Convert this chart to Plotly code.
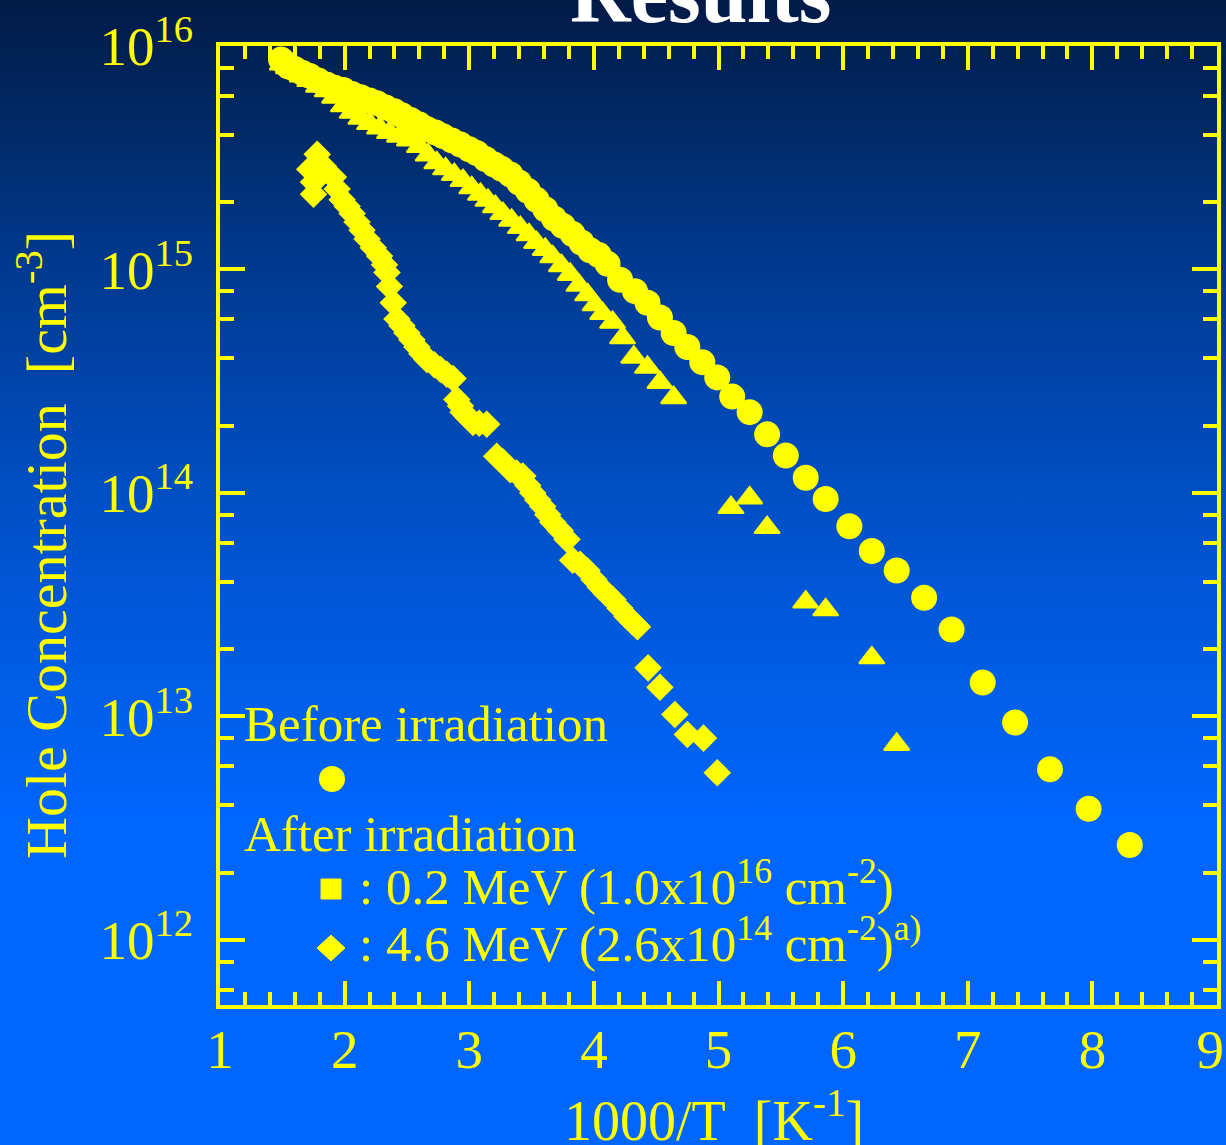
import base64
import plotly.graph_objects as go

# ---------------- data ----------------
before_x = [1.49, 1.52, 1.55, 1.60, 1.66, 1.72, 1.79, 1.86, 1.92, 1.99, 2.06, 2.13, 2.20, 2.26,
            2.33, 2.40, 2.46, 2.53, 2.60, 2.66, 2.73, 2.79, 2.86, 2.93, 3.00, 3.06, 3.13, 3.20,
            3.26, 3.33, 3.40, 3.47, 3.54, 3.61, 3.68, 3.75, 3.83, 3.90, 3.97, 4.04, 4.11, 4.21,
            4.33, 4.43, 4.53, 4.64, 4.75, 4.87, 4.99, 5.11, 5.25, 5.39, 5.54, 5.70, 5.86, 6.05,
            6.23, 6.43, 6.65, 6.87, 7.12, 7.38, 7.66, 7.97, 8.30]
before_y = [8.7e15, 8.4e15, 8.1e15, 7.9e15, 7.6e15, 7.35e15, 7.0e15, 6.7e15, 6.5e15, 6.35e15,
            6.1e15, 5.9e15, 5.7e15, 5.55e15, 5.3e15, 5.1e15, 4.9e15, 4.67e15, 4.45e15, 4.25e15,
            4.1e15, 3.95e15, 3.78e15, 3.62e15, 3.45e15, 3.32e15, 3.12e15, 2.95e15, 2.82e15,
            2.66e15, 2.45e15, 2.25e15, 2.05e15, 1.86e15, 1.69e15, 1.57e15, 1.44e15, 1.32e15,
            1.22e15, 1.16e15, 1.06e15, 9.0e14, 8.0e14, 7.1e14, 6.1e14, 5.2e14, 4.5e14, 3.85e14,
            3.29e14, 2.70e14, 2.30e14, 1.83e14, 1.47e14, 1.17e14, 9.4e13, 7.1e13, 5.5e13, 4.5e13,
            3.4e13, 2.45e13, 1.42e13, 9.4e12, 5.8e12, 3.86e12, 2.66e12]

mev02_x = [1.50, 1.55, 1.60, 1.66, 1.72, 1.79, 1.86, 1.92, 1.99, 2.06, 2.13, 2.20, 2.28, 2.36,
           2.44, 2.52, 2.60, 2.67, 2.74, 2.81, 2.88, 2.95, 3.02, 3.09, 3.15, 3.21, 3.27, 3.34,
           3.41, 3.48, 3.54, 3.61, 3.67, 3.74, 3.81, 3.88, 3.95, 4.01, 4.07, 4.15, 4.23, 4.32,
           4.43, 4.53, 4.64, 5.10, 5.25, 5.39, 5.70, 5.86, 6.23, 6.43]
mev02_y = [8.3e15, 8.0e15, 7.7e15, 7.35e15, 7.0e15, 6.6e15, 6.3e15, 5.9e15, 5.4e15, 5.05e15,
           4.75e15, 4.5e15, 4.3e15, 4.1e15, 3.95e15, 3.8e15, 3.55e15, 3.25e15, 3.0e15, 2.82e15,
           2.66e15, 2.5e15, 2.32e15, 2.17e15, 2.04e15, 1.91e15, 1.78e15, 1.66e15, 1.54e15, 1.43e15,
           1.32e15, 1.23e15, 1.14e15, 1.04e15, 9.5e14, 8.5e14, 7.7e14, 6.95e14, 6.35e14, 5.8e14,
           4.95e14, 4.05e14, 3.65e14, 3.12e14, 2.67e14, 8.6e13, 9.5e13, 7.0e13, 3.25e13, 3.0e13,
           1.83e13, 7.5e12]

mev46_x = [1.72, 1.75, 1.75, 1.78, 1.83, 1.91, 1.94, 1.98, 2.02, 2.06, 2.10, 2.14, 2.18, 2.23,
           2.28, 2.32, 2.34, 2.36, 2.39, 2.42, 2.46, 2.50, 2.54, 2.58, 2.62, 2.66, 2.72, 2.77,
           2.82, 2.87, 2.90, 2.93, 2.95, 2.99, 3.03, 3.08, 3.14, 3.22, 3.27, 3.33, 3.38, 3.43,
           3.47, 3.51, 3.55, 3.59, 3.63, 3.67, 3.73, 3.785, 3.83, 3.89, 3.945, 4.00, 4.05, 4.10,
           4.154, 4.21, 4.266, 4.31, 4.35, 4.435, 4.53, 4.65, 4.75, 4.88, 4.99]
mev46_y = [2.81e15, 2.46e15, 2.17e15, 3.28e15, 2.9e15, 2.59e15, 2.29e15, 2.05e15, 1.92e15,
           1.78e15, 1.63e15, 1.5e15, 1.37e15, 1.25e15, 1.15e15, 1.05e15, 9.7e14, 8.4e14, 7.1e14,
           6.0e14, 5.6e14, 5.2e14, 4.85e14, 4.5e14, 4.2e14, 3.96e14, 3.75e14, 3.57e14, 3.4e14,
           3.25e14, 2.62e14, 2.45e14, 2.3e14, 2.18e14, 2.07e14, 2.05e14, 2.03e14, 1.46e14,
           1.38e14, 1.27e14, 1.23e14, 1.19e14, 1.08e14, 1.0e14, 9.3e13, 8.7e13, 8.0e13, 7.4e13,
           6.8e13, 6.2e13, 5.0e13, 4.8e13, 4.5e13, 4.1e13, 3.8e13, 3.55e13, 3.33e13, 3.05e13,
           2.8e13, 2.65e13, 2.52e13, 1.65e13, 1.35e13, 1.02e13, 8.3e12, 8.0e12, 5.6e12]

x_ticks = [1, 2, 3, 4, 5, 6, 7, 8, 9]
x_tick_text = ["1", "2", "3", "4", "5", "6", "7", "8", "9\u00a0"]
y_decades = [12, 13, 14, 15, 16]

# ---------------- style ----------------
YEL = "#ffff00"
FONT = "Liberation Serif"
W, H = 1226, 1145
ML, MR, MT, MB = 220, 9, 46, 140
PW, PH = W - ML - MR, H - MT - MB

svg = ('<svg xmlns="http://www.w3.org/2000/svg" width="100" height="100" viewBox="0 0 100 100" '
       'preserveAspectRatio="none"><defs><linearGradient id="g" x1="0" y1="0" x2="0" y2="1">'
       '<stop offset="0" stop-color="#021a47"/>'
       '<stop offset="0.11" stop-color="#012a66"/>'
       '<stop offset="0.22" stop-color="#00388c"/>'
       '<stop offset="0.43" stop-color="#004fc4"/>'
       '<stop offset="0.60" stop-color="#005ee8"/>'
       '<stop offset="0.72" stop-color="#0066ff"/>'
       '<stop offset="1" stop-color="#0066ff"/>'
       '</linearGradient></defs><rect x="0" y="0" width="100" height="100" fill="url(#g)"/></svg>')
bg_src = "data:image/svg+xml;base64," + base64.b64encode(svg.encode()).decode()

fig = go.Figure()
fig.add_trace(go.Scatter(x=before_x, y=before_y, mode="markers", name="Before irradiation",
                         marker=dict(symbol="circle", size=26, color=YEL)))
fig.add_trace(go.Scatter(x=mev02_x, y=mev02_y, mode="markers", name="0.2 MeV",
                         marker=dict(symbol="triangle-up", size=22, color=YEL,
                                     line=dict(color=YEL, width=2))))
fig.add_trace(go.Scatter(x=mev46_x, y=mev46_y, mode="markers", name="4.6 MeV",
                         marker=dict(symbol="diamond", size=19, color=YEL,
                                     line=dict(color=YEL, width=2))))

minor_y = [m * 10 ** d for d in range(11, 16) for m in (2, 4, 6, 8)]

axis_common = dict(showline=True, linecolor=YEL, linewidth=4, mirror="ticks", ticks="inside",
                   tickcolor=YEL, tickwidth=4, showgrid=False, zeroline=False,
                   automargin=False, ticklabeloverflow="allow",
                   tickfont=dict(family=FONT, size=55, color=YEL))

fig.update_xaxes(range=[1, 9], tickmode="array", tickvals=x_ticks,
                 ticktext=x_tick_text, ticklen=24, ticklabelstandoff=-7,
                 minor=dict(dtick=0.2, tick0=1, ticks="inside", ticklen=13, tickwidth=4,
                            tickcolor=YEL, showgrid=False),
                 **axis_common)
fig.update_yaxes(type="log", range=[11.709, 16.0], tickmode="array",
                 tickvals=[10 ** d for d in y_decades],
                 ticktext=["10<sup>%d</sup>" % d for d in y_decades], ticklen=25,
                 ticklabelstandoff=12,
                 minor=dict(tickmode="array", tickvals=minor_y, ticks="inside", ticklen=14,
                            tickwidth=4, tickcolor=YEL, showgrid=False),
                 **axis_common)


def px_x(p):
    return (p - ML) / PW


def px_y(p):
    return (H - MB - p) / PH


ann = []
ann.append(dict(text="<b>Results</b>", x=px_x(700), y=px_y(42), xanchor="center",
                yanchor="bottom", font=dict(family=FONT, size=84, color="white")))
ann.append(dict(text="1000/T\u00a0 [K<sup>-1</sup>]", x=px_x(714), y=px_y(1154),
                xanchor="center", yanchor="bottom", font=dict(family=FONT, size=56, color=YEL)))
ann.append(dict(text="Hole Concentration\u00a0 [cm<sup>-3</sup>]", x=px_x(42), y=px_y(545),
                xanchor="center", yanchor="middle", textangle=-90,
                font=dict(family=FONT, size=58, color=YEL)))
leg_font = dict(family=FONT, size=51, color=YEL)
ann.append(dict(text="Before irradiation", x=px_x(242), y=px_y(754), xanchor="left",
                yanchor="bottom", font=leg_font))
ann.append(dict(text="After irradiation", x=px_x(242), y=px_y(864), xanchor="left",
                yanchor="bottom", font=leg_font))
ann.append(dict(text=": 0.2 MeV (1.0x10<sup>16</sup> cm<sup>-2</sup>)", x=px_x(357),
                y=px_y(917), xanchor="left", yanchor="bottom", font=leg_font))
ann.append(dict(text=": 4.6 MeV (2.6x10<sup>14</sup> cm<sup>-2</sup>)<sup>a)</sup>", x=px_x(357),
                y=px_y(974), xanchor="left", yanchor="bottom", font=leg_font))
for a in ann:
    a.update(xref="paper", yref="paper", showarrow=False)

shapes = [
    dict(type="circle", xref="paper", yref="paper", xsizemode="pixel", ysizemode="pixel",
         xanchor=px_x(332), yanchor=px_y(779), x0=-13, x1=13, y0=-13, y1=13,
         fillcolor=YEL, line=dict(width=0)),
    dict(type="rect", xref="paper", yref="paper", xsizemode="pixel", ysizemode="pixel",
         xanchor=px_x(331), yanchor=px_y(889), x0=-10, x1=10, y0=-10, y1=10,
         fillcolor=YEL, line=dict(color=YEL, width=1)),
    dict(type="path", xref="paper", yref="paper", xsizemode="pixel", ysizemode="pixel",
         xanchor=px_x(331), yanchor=px_y(948), path="M -14 0 L 0 13 L 14 0 L 0 -13 Z",
         fillcolor=YEL, line=dict(color=YEL, width=1)),
]

fig.update_layout(
    width=W, height=H, margin=dict(l=ML, r=MR, t=MT, b=MB, autoexpand=False),
    paper_bgcolor="#0050c8", plot_bgcolor="rgba(0,0,0,0)",
    showlegend=False, annotations=ann, shapes=shapes,
    images=[dict(source=bg_src, xref="paper", yref="paper", x=-ML / PW, y=1 + MT / PH,
                 sizex=W / PW, sizey=H / PH, xanchor="left", yanchor="top",
                 sizing="stretch", layer="below")],
)

fig.write_html("out.html", config={"displayModeBar": False},
               post_script="document.body.style.margin='0';document.body.style.overflow='hidden';")
